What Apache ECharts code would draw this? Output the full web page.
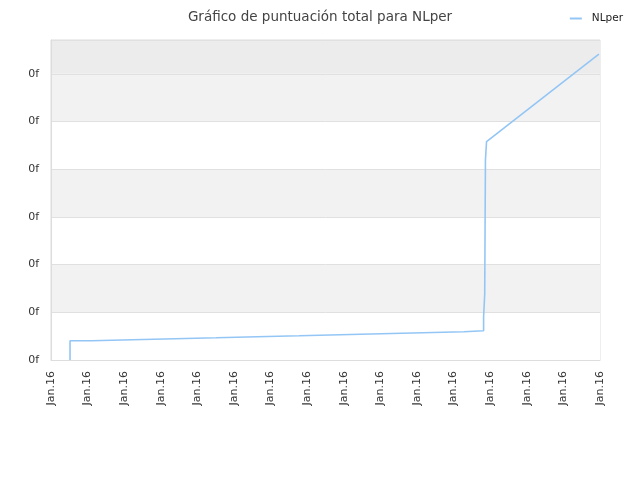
<!DOCTYPE html>
<html>
<head>
<meta charset="utf-8">
<script src="https://cdn.jsdelivr.net/npm/echarts@6/dist/echarts.min.js"></script>
<style>html,body{margin:0;padding:0;background:#fff}#c{width:640px;height:480px}</style>
</head>
<body>
<div id="c"></div>
<script>
var titleText = 'Gráfico de puntuación total para NLper';
var seriesName = 'NLper';
var xTickLabel = 'Jan.16';
var yTickLabel = '0f';
// time (axis units) and cumulative score at each event
var times = [0.52, 0.52, 1.11, 2.23, 3.39, 4.51, 5.63, 6.78, 7.90, 9.02, 10.16, 11.28, 11.82, 11.85, 11.87, 11.90, 14.97];
var scores = [0, 0.405, 0.426, 0.447, 0.467, 0.488, 0.509, 0.530, 0.551, 0.572, 0.593, 0.614, 0.901, 1.384, 4.193, 4.581, 6.415];

var pts = [[times[0], scores[0]]];
for (var i = 1; i < times.length; i++) {
  if (i < times.length - 1) pts.push([times[i], scores[i - 1]]);
  pts.push([times[i], scores[i]]);
}

var chart = echarts.init(document.getElementById('c'));
chart.setOption({
  animation: false,
  backgroundColor: '#fff',
  textStyle: { fontFamily: 'DejaVu Sans' },
  title: {
    text: titleText, left: 'center', top: 5,
    textStyle: { fontSize: 13.5, fontWeight: 'normal', color: '#444', fontFamily: 'DejaVu Sans' }
  },
  legend: {
    right: 12, top: 8, itemWidth: 12, itemHeight: 2, itemGap: 8,
    icon: 'rect',
    textStyle: { fontSize: 10.5, color: '#222', fontFamily: 'DejaVu Sans', padding: [0, 0, 0, 5] },
    data: [seriesName]
  },
  grid: { left: 51, right: 40, top: 40, bottom: 120, show: true, borderColor: '#ddd', borderWidth: 1 },
  xAxis: {
    type: 'value', min: 0, max: 15, interval: 1,
    axisLine: { show: true, lineStyle: { color: '#ddd' } },
    axisTick: { show: false },
    splitLine: { show: false },
    axisLabel: { rotate: 90, fontSize: 11, color: '#333', margin: 11, formatter: function () { return xTickLabel; } }
  },
  yAxis: {
    type: 'value', min: 0, max: 6.71, interval: 1,
    axisLine: { show: true, lineStyle: { color: '#ddd' } },
    axisTick: { show: false },
    splitLine: { show: true, lineStyle: { color: '#e0e0e0' } },
    splitArea: { show: true, areaStyle: { color: ['#ffffff', '#f2f2f2', '#ffffff', '#f2f2f2', '#ffffff', '#f2f2f2', '#ececec'] } },
    axisLabel: { showMaxLabel: false, fontSize: 11, color: '#333', margin: 12, formatter: function () { return yTickLabel; } }
  },
  series: [{
    name: seriesName, type: 'line', data: pts, showSymbol: false,
    lineStyle: { color: '#94c6f5', width: 1.6 },
    itemStyle: { color: '#94c6f5' }
  }]
});
</script>
</body>
</html>
